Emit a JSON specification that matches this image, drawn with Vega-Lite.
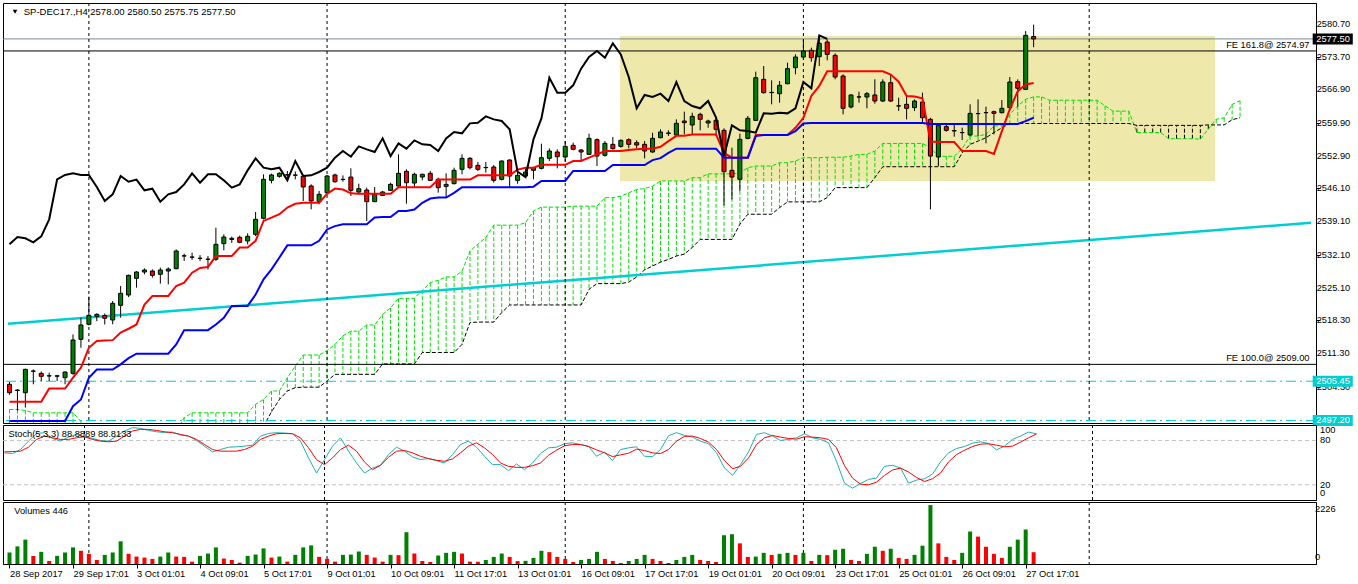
{
"$schema":"https://vega.github.io/schema/vega-lite/v6.json",
"padding":{"left":2,"top":2,"right":0,"bottom":0},
"background":"white",
"spacing":2,
"bounds":"flush",
"config":{"view":{"stroke":"#000","strokeWidth":1},"font":"Liberation Sans","axis":{"labelFont":"Liberation Sans","labelFontSize":9.3,"labelColor":"#000","domainColor":"#000","tickColor":"#000","grid":false,"labelOverlap":false},"text":{"font":"Liberation Sans","fontSize":9.3}},
"datasets":{
"bars":[
{"i":0,"o":2504.8,"h":2505.3,"l":2502.6,"c":2503.04,"tk":2501.15,"kj":2497.1,"m":63.2,"s":64.5,"v":435,"d":"u"},
{"i":1,"o":2503.6,"h":2503.75,"l":2499.3,"c":2503.5,"tk":2501.15,"kj":2497.1,"m":62.3,"s":65.0,"v":665,"d":"u"},
{"i":2,"o":2503.04,"h":2508.1,"l":2499.9,"c":2507.95,"tk":2501.15,"kj":2497.1,"m":67.7,"s":65.5,"v":921,"d":"u"},
{"i":3,"o":2507.6,"h":2507.95,"l":2504.8,"c":2507.55,"tk":2501.15,"kj":2497.1,"m":79.1,"s":70.9,"v":307,"d":"d"},
{"i":4,"o":2507.11,"h":2507.5,"l":2505.5,"c":2506.48,"tk":2501.15,"kj":2497.1,"m":89.5,"s":81.4,"v":460,"d":"u"},
{"i":5,"o":2506.6,"h":2507.25,"l":2505.5,"c":2506.55,"tk":2503.9,"kj":2497.1,"m":90.5,"s":85.9,"v":115,"d":"d"},
{"i":6,"o":2506.5,"h":2506.8,"l":2505.5,"c":2506.6,"tk":2503.9,"kj":2497.1,"m":82.7,"s":83.6,"v":307,"d":"u"},
{"i":7,"o":2506.2,"h":2507.5,"l":2504.8,"c":2507.39,"tk":2503.9,"kj":2497.1,"m":79.1,"s":81.4,"v":435,"d":"u"},
{"i":8,"o":2507.11,"h":2515.3,"l":2506.8,"c":2514.13,"tk":2506.2,"kj":2500.2,"m":84.5,"s":81.4,"v":627,"d":"u"},
{"i":9,"o":2514.27,"h":2518.83,"l":2512.5,"c":2517.29,"tk":2508.3,"kj":2501.6,"m":88.2,"s":83.6,"v":499,"d":"d"},
{"i":10,"o":2517.43,"h":2523.25,"l":2517.2,"c":2519.32,"tk":2512.5,"kj":2506.2,"m":85.0,"s":85.0,"v":384,"d":"d"},
{"i":11,"o":2519.1,"h":2519.75,"l":2518.1,"c":2519.53,"tk":2513.9,"kj":2507.9,"m":82.7,"s":81.4,"v":153,"d":"d"},
{"i":12,"o":2519.3,"h":2519.7,"l":2517.4,"c":2518.7,"tk":2514.0,"kj":2507.9,"m":80.0,"s":79.1,"v":345,"d":"u"},
{"i":13,"o":2518.34,"h":2522.34,"l":2517.43,"c":2521.85,"tk":2514.1,"kj":2507.9,"m":79.1,"s":78.2,"v":435,"d":"u"},
{"i":14,"o":2521.43,"h":2525.5,"l":2518.83,"c":2523.95,"tk":2515.7,"kj":2509.0,"m":85.9,"s":79.1,"v":857,"d":"u"},
{"i":15,"o":2523.6,"h":2527.9,"l":2523.18,"c":2527.74,"tk":2516.5,"kj":2510.3,"m":92.7,"s":85.9,"v":384,"d":"d"},
{"i":16,"o":2527.11,"h":2528.6,"l":2525.15,"c":2528.44,"tk":2517.4,"kj":2511.25,"m":97.3,"s":92.7,"v":281,"d":"d"},
{"i":17,"o":2528.44,"h":2529.2,"l":2527.95,"c":2528.86,"tk":2521.6,"kj":2511.25,"m":96.4,"s":95.0,"v":243,"d":"d"},
{"i":18,"o":2528.65,"h":2529.0,"l":2527.25,"c":2527.74,"tk":2523.4,"kj":2511.25,"m":93.6,"s":95.0,"v":192,"d":"d"},
{"i":19,"o":2527.95,"h":2529.35,"l":2525.99,"c":2528.86,"tk":2523.4,"kj":2511.25,"m":91.8,"s":93.6,"v":281,"d":"u"},
{"i":20,"o":2528.65,"h":2529.4,"l":2525.85,"c":2529.07,"tk":2523.4,"kj":2511.25,"m":90.5,"s":91.8,"v":435,"d":"u"},
{"i":21,"o":2529.14,"h":2533.2,"l":2529.0,"c":2532.86,"tk":2525.5,"kj":2513.2,"m":91.4,"s":90.5,"v":281,"d":"d"},
{"i":22,"o":2531.8,"h":2532.3,"l":2530.76,"c":2531.85,"tk":2526.2,"kj":2516.2,"m":87.3,"s":88.2,"v":270,"d":"d"},
{"i":23,"o":2531.6,"h":2532.5,"l":2531.0,"c":2531.55,"tk":2528.3,"kj":2516.2,"m":85.9,"s":85.9,"v":90,"d":"d"},
{"i":24,"o":2531.3,"h":2532.0,"l":2530.76,"c":2531.35,"tk":2529.3,"kj":2516.2,"m":80.0,"s":81.4,"v":307,"d":"u"},
{"i":25,"o":2531.1,"h":2531.8,"l":2529.0,"c":2531.15,"tk":2529.5,"kj":2516.2,"m":72.3,"s":74.5,"v":396,"d":"u"},
{"i":26,"o":2531.11,"h":2537.77,"l":2530.8,"c":2534.27,"tk":2531.8,"kj":2517.4,"m":64.5,"s":67.7,"v":627,"d":"u"},
{"i":27,"o":2534.41,"h":2536.37,"l":2533.0,"c":2535.81,"tk":2531.8,"kj":2518.8,"m":67.7,"s":65.5,"v":205,"d":"d"},
{"i":28,"o":2535.3,"h":2535.9,"l":2534.55,"c":2535.53,"tk":2531.8,"kj":2521.3,"m":70.9,"s":65.5,"v":153,"d":"d"},
{"i":29,"o":2535.74,"h":2536.1,"l":2534.5,"c":2534.69,"tk":2533.6,"kj":2521.3,"m":71.4,"s":65.5,"v":51,"d":"d"},
{"i":30,"o":2534.97,"h":2536.58,"l":2534.26,"c":2535.95,"tk":2533.6,"kj":2521.3,"m":72.3,"s":67.7,"v":307,"d":"u"},
{"i":31,"o":2536.37,"h":2541.07,"l":2536.0,"c":2539.53,"tk":2535.0,"kj":2523.7,"m":73.6,"s":72.3,"v":358,"d":"u"},
{"i":32,"o":2539.74,"h":2549.0,"l":2539.5,"c":2547.95,"tk":2539.2,"kj":2526.9,"m":85.9,"s":81.4,"v":588,"d":"u"},
{"i":33,"o":2547.74,"h":2549.14,"l":2547.1,"c":2548.86,"tk":2539.9,"kj":2529.0,"m":89.5,"s":85.9,"v":243,"d":"d"},
{"i":34,"o":2548.58,"h":2549.42,"l":2548.3,"c":2549.21,"tk":2540.6,"kj":2531.5,"m":90.5,"s":89.1,"v":281,"d":"u"},
{"i":35,"o":2548.9,"h":2549.7,"l":2547.95,"c":2548.86,"tk":2542.0,"kj":2534.05,"m":90.0,"s":89.5,"v":90,"d":"d"},
{"i":36,"o":2548.82,"h":2549.6,"l":2547.95,"c":2548.86,"tk":2542.8,"kj":2534.05,"m":89.1,"s":89.1,"v":345,"d":"u"},
{"i":37,"o":2548.58,"h":2548.86,"l":2543.39,"c":2546.33,"tk":2543.0,"kj":2534.05,"m":79.1,"s":83.6,"v":627,"d":"u"},
{"i":38,"o":2546.54,"h":2546.9,"l":2541.63,"c":2543.39,"tk":2543.0,"kj":2534.05,"m":56.4,"s":70.0,"v":703,"d":"u"},
{"i":39,"o":2543.25,"h":2545.5,"l":2542.7,"c":2544.79,"tk":2543.0,"kj":2535.0,"m":35.9,"s":54.1,"v":269,"d":"d"},
{"i":40,"o":2545.14,"h":2548.86,"l":2544.8,"c":2548.65,"tk":2544.9,"kj":2537.4,"m":54.1,"s":47.3,"v":192,"d":"d"},
{"i":41,"o":2548.86,"h":2549.14,"l":2547.2,"c":2547.45,"tk":2546.0,"kj":2538.1,"m":72.3,"s":56.4,"v":90,"d":"d"},
{"i":42,"o":2547.95,"h":2548.78,"l":2547.45,"c":2547.9,"tk":2545.8,"kj":2538.47,"m":83.6,"s":67.7,"v":345,"d":"u"},
{"i":43,"o":2548.43,"h":2550.26,"l":2544.43,"c":2545.63,"tk":2545.0,"kj":2538.47,"m":65.5,"s":73.6,"v":355,"d":"u"},
{"i":44,"o":2545.28,"h":2547.03,"l":2544.78,"c":2545.98,"tk":2544.9,"kj":2538.47,"m":49.5,"s":65.5,"v":473,"d":"u"},
{"i":45,"o":2545.7,"h":2546.19,"l":2539.17,"c":2543.24,"tk":2544.9,"kj":2538.47,"m":35.9,"s":50.9,"v":345,"d":"d"},
{"i":46,"o":2543.24,"h":2546.33,"l":2543.2,"c":2544.78,"tk":2544.9,"kj":2539.9,"m":42.7,"s":40.5,"v":243,"d":"d"},
{"i":47,"o":2544.57,"h":2545.5,"l":2544.43,"c":2545.28,"tk":2544.9,"kj":2540.0,"m":46.4,"s":46.4,"v":90,"d":"d"},
{"i":48,"o":2545.63,"h":2547.24,"l":2545.49,"c":2546.89,"tk":2544.9,"kj":2540.0,"m":60.9,"s":57.3,"v":345,"d":"u"},
{"i":49,"o":2546.54,"h":2553.2,"l":2546.19,"c":2549.21,"tk":2546.3,"kj":2541.28,"m":70.9,"s":65.5,"v":335,"d":"d"},
{"i":50,"o":2549.63,"h":2550.05,"l":2542.82,"c":2547.24,"tk":2546.3,"kj":2541.28,"m":65.5,"s":66.4,"v":1202,"d":"u"},
{"i":51,"o":2547.17,"h":2549.35,"l":2546.19,"c":2549.0,"tk":2546.3,"kj":2541.6,"m":57.7,"s":63.2,"v":396,"d":"d"},
{"i":52,"o":2548.43,"h":2549.14,"l":2547.73,"c":2549.0,"tk":2546.3,"kj":2543.0,"m":54.1,"s":58.6,"v":115,"d":"d"},
{"i":53,"o":2549.21,"h":2549.7,"l":2547.59,"c":2547.73,"tk":2546.3,"kj":2543.9,"m":55.5,"s":55.5,"v":77,"d":"d"},
{"i":54,"o":2547.94,"h":2548.3,"l":2545.14,"c":2546.19,"tk":2547.9,"kj":2544.1,"m":52.7,"s":53.2,"v":320,"d":"u"},
{"i":55,"o":2546.47,"h":2549.21,"l":2544.22,"c":2546.89,"tk":2547.9,"kj":2544.1,"m":49.5,"s":51.8,"v":422,"d":"u"},
{"i":56,"o":2547.03,"h":2550.4,"l":2546.89,"c":2549.84,"tk":2547.9,"kj":2545.1,"m":60.9,"s":55.0,"v":460,"d":"u"},
{"i":57,"o":2550.05,"h":2553.2,"l":2549.0,"c":2552.36,"tk":2547.9,"kj":2546.3,"m":74.5,"s":63.2,"v":396,"d":"d"},
{"i":58,"o":2552.36,"h":2552.64,"l":2550.05,"c":2550.4,"tk":2547.9,"kj":2546.3,"m":79.1,"s":72.3,"v":90,"d":"d"},
{"i":59,"o":2550.89,"h":2551.6,"l":2549.7,"c":2550.05,"tk":2548.8,"kj":2546.3,"m":70.9,"s":76.8,"v":85,"d":"d"},
{"i":60,"o":2550.45,"h":2551.6,"l":2549.35,"c":2550.4,"tk":2548.8,"kj":2546.3,"m":58.6,"s":70.0,"v":153,"d":"u"},
{"i":61,"o":2550.54,"h":2550.96,"l":2547.24,"c":2547.73,"tk":2548.8,"kj":2546.3,"m":47.3,"s":60.9,"v":269,"d":"u"},
{"i":62,"o":2547.94,"h":2551.94,"l":2547.73,"c":2551.8,"tk":2548.8,"kj":2546.3,"m":47.3,"s":49.5,"v":396,"d":"u"},
{"i":63,"o":2552.01,"h":2552.15,"l":2546.33,"c":2548.64,"tk":2548.8,"kj":2546.3,"m":39.1,"s":45.0,"v":269,"d":"d"},
{"i":64,"o":2547.73,"h":2549.35,"l":2547.03,"c":2548.78,"tk":2550.0,"kj":2546.3,"m":48.2,"s":43.6,"v":110,"d":"d"},
{"i":65,"o":2548.64,"h":2550.4,"l":2548.3,"c":2549.49,"tk":2550.4,"kj":2546.3,"m":40.5,"s":43.6,"v":120,"d":"u"},
{"i":66,"o":2549.84,"h":2550.54,"l":2547.94,"c":2550.4,"tk":2550.4,"kj":2546.4,"m":49.5,"s":45.9,"v":230,"d":"u"},
{"i":67,"o":2550.26,"h":2555.45,"l":2550.05,"c":2552.5,"tk":2551.0,"kj":2547.6,"m":62.3,"s":49.5,"v":499,"d":"u"},
{"i":68,"o":2552.36,"h":2554.47,"l":2551.8,"c":2553.91,"tk":2551.0,"kj":2547.6,"m":70.0,"s":60.0,"v":448,"d":"d"},
{"i":69,"o":2553.7,"h":2554.26,"l":2550.26,"c":2552.71,"tk":2551.0,"kj":2547.6,"m":70.9,"s":66.8,"v":269,"d":"d"},
{"i":70,"o":2552.64,"h":2556.01,"l":2551.66,"c":2554.89,"tk":2551.0,"kj":2547.6,"m":75.5,"s":72.7,"v":192,"d":"d"},
{"i":71,"o":2555.1,"h":2555.66,"l":2554.05,"c":2554.26,"tk":2551.8,"kj":2549.7,"m":76.8,"s":74.5,"v":77,"d":"d"},
{"i":72,"o":2554.12,"h":2554.3,"l":2551.8,"c":2553.7,"tk":2551.8,"kj":2549.7,"m":74.5,"s":74.5,"v":153,"d":"u"},
{"i":73,"o":2553.2,"h":2557.55,"l":2553.07,"c":2556.57,"tk":2552.5,"kj":2549.7,"m":72.3,"s":71.8,"v":192,"d":"u"},
{"i":74,"o":2556.29,"h":2556.57,"l":2550.75,"c":2552.85,"tk":2553.2,"kj":2549.7,"m":58.6,"s":67.3,"v":460,"d":"u"},
{"i":75,"o":2553.0,"h":2556.0,"l":2552.71,"c":2555.52,"tk":2553.9,"kj":2549.7,"m":64.5,"s":63.2,"v":192,"d":"d"},
{"i":76,"o":2555.31,"h":2556.85,"l":2554.19,"c":2554.4,"tk":2553.9,"kj":2550.96,"m":52.7,"s":58.2,"v":115,"d":"d"},
{"i":77,"o":2554.89,"h":2556.36,"l":2554.61,"c":2556.15,"tk":2553.9,"kj":2550.96,"m":67.7,"s":60.5,"v":38,"d":"d"},
{"i":78,"o":2556.29,"h":2556.57,"l":2554.47,"c":2555.31,"tk":2554.1,"kj":2550.96,"m":70.0,"s":62.7,"v":115,"d":"u"},
{"i":79,"o":2555.66,"h":2556.15,"l":2554.47,"c":2555.17,"tk":2554.3,"kj":2550.96,"m":71.4,"s":68.2,"v":192,"d":"u"},
{"i":80,"o":2555.31,"h":2556.01,"l":2552.36,"c":2553.91,"tk":2554.4,"kj":2550.96,"m":58.6,"s":66.4,"v":345,"d":"u"},
{"i":81,"o":2553.7,"h":2557.76,"l":2553.56,"c":2556.57,"tk":2554.4,"kj":2552.0,"m":58.2,"s":63.2,"v":192,"d":"d"},
{"i":82,"o":2556.71,"h":2558.47,"l":2556.57,"c":2557.91,"tk":2554.8,"kj":2552.4,"m":67.7,"s":62.3,"v":115,"d":"d"},
{"i":83,"o":2557.7,"h":2558.26,"l":2557.07,"c":2557.63,"tk":2556.0,"kj":2553.5,"m":86.4,"s":67.7,"v":38,"d":"d"},
{"i":84,"o":2557.28,"h":2560.57,"l":2557.07,"c":2559.73,"tk":2557.1,"kj":2554.4,"m":90.5,"s":79.1,"v":153,"d":"u"},
{"i":85,"o":2560.22,"h":2562.19,"l":2557.42,"c":2559.87,"tk":2557.1,"kj":2554.4,"m":86.8,"s":85.5,"v":269,"d":"u"},
{"i":86,"o":2559.38,"h":2561.97,"l":2557.42,"c":2561.2,"tk":2557.4,"kj":2554.4,"m":84.5,"s":85.9,"v":345,"d":"u"},
{"i":87,"o":2561.62,"h":2561.97,"l":2558.26,"c":2560.57,"tk":2557.4,"kj":2554.4,"m":79.1,"s":82.7,"v":153,"d":"d"},
{"i":88,"o":2559.8,"h":2560.5,"l":2558.8,"c":2560.22,"tk":2557.4,"kj":2554.4,"m":75.5,"s":77.7,"v":115,"d":"d"},
{"i":89,"o":2560.36,"h":2560.92,"l":2557.07,"c":2558.47,"tk":2557.4,"kj":2554.4,"m":63.2,"s":67.7,"v":77,"d":"d"},
{"i":90,"o":2558.26,"h":2558.68,"l":2542.47,"c":2549.55,"tk":2553.5,"kj":2552.5,"m":42.7,"s":52.7,"v":1087,"d":"u"},
{"i":91,"o":2549.84,"h":2554.61,"l":2543.73,"c":2548.43,"tk":2552.5,"kj":2552.5,"m":32.7,"s":41.8,"v":1126,"d":"u"},
{"i":92,"o":2547.94,"h":2557.56,"l":2545.49,"c":2556.36,"tk":2552.5,"kj":2552.5,"m":47.3,"s":45.0,"v":780,"d":"d"},
{"i":93,"o":2556.57,"h":2561.27,"l":2556.36,"c":2560.78,"tk":2552.5,"kj":2552.5,"m":64.5,"s":56.4,"v":269,"d":"d"},
{"i":94,"o":2560.36,"h":2570.6,"l":2560.22,"c":2569.34,"tk":2557.3,"kj":2557.06,"m":88.2,"s":74.5,"v":280,"d":"u"},
{"i":95,"o":2568.99,"h":2571.8,"l":2565.97,"c":2566.19,"tk":2557.3,"kj":2557.3,"m":90.5,"s":83.6,"v":422,"d":"u"},
{"i":96,"o":2566.25,"h":2568.78,"l":2563.73,"c":2566.19,"tk":2557.3,"kj":2557.3,"m":85.9,"s":86.8,"v":345,"d":"d"},
{"i":97,"o":2565.97,"h":2568.64,"l":2564.08,"c":2567.73,"tk":2557.3,"kj":2557.3,"m":80.0,"s":84.5,"v":384,"d":"u"},
{"i":98,"o":2568.08,"h":2572.5,"l":2567.94,"c":2571.24,"tk":2557.3,"kj":2557.3,"m":81.4,"s":82.7,"v":422,"d":"u"},
{"i":99,"o":2571.45,"h":2574.25,"l":2570.05,"c":2573.69,"tk":2558.8,"kj":2558.1,"m":83.6,"s":81.8,"v":345,"d":"d"},
{"i":100,"o":2573.69,"h":2577.41,"l":2573.41,"c":2574.95,"tk":2560.9,"kj":2559.7,"m":89.1,"s":85.0,"v":422,"d":"u"},
{"i":101,"o":2575.1,"h":2575.66,"l":2572.71,"c":2573.55,"tk":2565.5,"kj":2559.8,"m":83.6,"s":84.5,"v":115,"d":"d"},
{"i":102,"o":2573.76,"h":2578.11,"l":2571.8,"c":2576.57,"tk":2567.6,"kj":2559.8,"m":81.4,"s":83.6,"v":345,"d":"u"},
{"i":103,"o":2576.85,"h":2577.41,"l":2572.99,"c":2574.25,"tk":2570.7,"kj":2559.8,"m":76.8,"s":81.4,"v":335,"d":"d"},
{"i":104,"o":2574.04,"h":2574.46,"l":2569.0,"c":2569.48,"tk":2570.7,"kj":2559.8,"m":51.8,"s":70.0,"v":537,"d":"u"},
{"i":105,"o":2569.69,"h":2570.05,"l":2561.62,"c":2562.89,"tk":2570.7,"kj":2559.8,"m":22.3,"s":45.9,"v":576,"d":"u"},
{"i":106,"o":2563.17,"h":2565.83,"l":2562.89,"c":2565.7,"tk":2570.7,"kj":2559.8,"m":15.5,"s":29.1,"v":153,"d":"d"},
{"i":107,"o":2565.3,"h":2566.4,"l":2564.08,"c":2565.27,"tk":2570.7,"kj":2559.8,"m":21.8,"s":20.9,"v":115,"d":"d"},
{"i":108,"o":2565.27,"h":2566.33,"l":2562.89,"c":2565.97,"tk":2570.7,"kj":2559.8,"m":27.3,"s":20.0,"v":384,"d":"u"},
{"i":109,"o":2565.7,"h":2569.0,"l":2563.87,"c":2564.43,"tk":2570.7,"kj":2559.8,"m":29.1,"s":23.6,"v":652,"d":"u"},
{"i":110,"o":2564.43,"h":2569.0,"l":2564.22,"c":2568.43,"tk":2570.7,"kj":2559.8,"m":45.0,"s":32.7,"v":499,"d":"d"},
{"i":111,"o":2568.29,"h":2570.0,"l":2564.22,"c":2564.43,"tk":2570.0,"kj":2559.8,"m":46.4,"s":40.0,"v":576,"d":"u"},
{"i":112,"o":2563.42,"h":2565.13,"l":2562.33,"c":2563.38,"tk":2568.5,"kj":2559.8,"m":42.7,"s":42.7,"v":230,"d":"d"},
{"i":113,"o":2563.73,"h":2565.48,"l":2560.57,"c":2562.89,"tk":2565.5,"kj":2559.8,"m":22.3,"s":37.3,"v":192,"d":"d"},
{"i":114,"o":2563.03,"h":2564.78,"l":2562.33,"c":2564.43,"tk":2565.4,"kj":2559.8,"m":26.4,"s":30.0,"v":345,"d":"u"},
{"i":115,"o":2564.22,"h":2566.19,"l":2559.66,"c":2560.92,"tk":2565.0,"kj":2559.8,"m":28.2,"s":24.5,"v":691,"d":"u"},
{"i":116,"o":2560.57,"h":2560.92,"l":2541.63,"c":2552.85,"tk":2555.9,"kj":2559.6,"m":34.5,"s":28.2,"v":2226,"d":"u"},
{"i":117,"o":2552.64,"h":2559.66,"l":2550.75,"c":2559.31,"tk":2555.8,"kj":2559.6,"m":50.9,"s":35.9,"v":780,"d":"d"},
{"i":118,"o":2559.03,"h":2559.66,"l":2557.97,"c":2558.26,"tk":2555.8,"kj":2559.6,"m":63.2,"s":50.9,"v":269,"d":"d"},
{"i":119,"o":2558.2,"h":2559.73,"l":2556.92,"c":2558.12,"tk":2555.8,"kj":2559.6,"m":69.1,"s":60.9,"v":153,"d":"d"},
{"i":120,"o":2557.8,"h":2558.82,"l":2556.22,"c":2557.77,"tk":2553.9,"kj":2559.6,"m":71.8,"s":66.8,"v":422,"d":"u"},
{"i":121,"o":2557.28,"h":2563.73,"l":2557.07,"c":2561.83,"tk":2553.9,"kj":2559.6,"m":76.4,"s":71.8,"v":1228,"d":"u"},
{"i":122,"o":2561.8,"h":2564.78,"l":2557.06,"c":2561.76,"tk":2553.9,"kj":2559.6,"m":78.2,"s":75.0,"v":1036,"d":"d"},
{"i":123,"o":2562.0,"h":2563.24,"l":2555.52,"c":2561.97,"tk":2553.9,"kj":2559.6,"m":75.9,"s":75.5,"v":652,"d":"d"},
{"i":124,"o":2562.18,"h":2562.4,"l":2557.41,"c":2561.83,"tk":2553.3,"kj":2559.6,"m":67.3,"s":73.6,"v":384,"d":"d"},
{"i":125,"o":2561.97,"h":2564.64,"l":2561.83,"c":2562.89,"tk":2558.1,"kj":2559.6,"m":72.3,"s":71.4,"v":230,"d":"d"},
{"i":126,"o":2563.03,"h":2569.48,"l":2562.54,"c":2568.43,"tk":2562.7,"kj":2559.6,"m":81.4,"s":72.3,"v":652,"d":"u"},
{"i":127,"o":2568.5,"h":2568.99,"l":2563.24,"c":2567.1,"tk":2566.5,"kj":2559.6,"m":85.9,"s":77.7,"v":921,"d":"u"},
{"i":128,"o":2566.88,"h":2579.16,"l":2566.74,"c":2578.25,"tk":2567.9,"kj":2560.2,"m":91.4,"s":83.6,"v":1305,"d":"u"},
{"i":129,"o":2578.0,"h":2580.5,"l":2575.75,"c":2577.5,"tk":2568.2,"kj":2560.9,"m":88.89,"s":88.81,"v":446,"d":"d"}
],
"chikou":[
{"i":0,"p":2534.27},{"i":1,"p":2535.81},{"i":2,"p":2535.53},{"i":3,"p":2534.69},{"i":4,"p":2535.95},{"i":5,"p":2539.53},{"i":6,"p":2547.95},{"i":7,"p":2548.86},{"i":8,"p":2549.21},{"i":9,"p":2548.86},
{"i":10,"p":2548.86},{"i":11,"p":2546.33},{"i":12,"p":2543.39},{"i":13,"p":2544.79},{"i":14,"p":2548.65},{"i":15,"p":2547.45},{"i":16,"p":2547.9},{"i":17,"p":2545.63},{"i":18,"p":2545.98},{"i":19,"p":2543.24},
{"i":20,"p":2544.78},{"i":21,"p":2545.28},{"i":22,"p":2546.89},{"i":23,"p":2549.21},{"i":24,"p":2547.24},{"i":25,"p":2549.0},{"i":26,"p":2549.0},{"i":27,"p":2547.73},{"i":28,"p":2546.19},{"i":29,"p":2546.89},
{"i":30,"p":2549.84},{"i":31,"p":2552.36},{"i":32,"p":2550.4},{"i":33,"p":2550.05},{"i":34,"p":2550.4},{"i":35,"p":2547.73},{"i":36,"p":2551.8},{"i":37,"p":2548.64},{"i":38,"p":2548.78},{"i":39,"p":2549.49},
{"i":40,"p":2550.4},{"i":41,"p":2552.5},{"i":42,"p":2553.91},{"i":43,"p":2552.71},{"i":44,"p":2554.89},{"i":45,"p":2554.26},{"i":46,"p":2553.7},{"i":47,"p":2556.57},{"i":48,"p":2552.85},{"i":49,"p":2555.52},
{"i":50,"p":2554.4},{"i":51,"p":2556.15},{"i":52,"p":2555.31},{"i":53,"p":2555.17},{"i":54,"p":2553.91},{"i":55,"p":2556.57},{"i":56,"p":2557.91},{"i":57,"p":2557.63},{"i":58,"p":2559.73},{"i":59,"p":2559.87},
{"i":60,"p":2561.2},{"i":61,"p":2560.57},{"i":62,"p":2560.22},{"i":63,"p":2558.47},{"i":64,"p":2549.55},{"i":65,"p":2548.43},{"i":66,"p":2556.36},{"i":67,"p":2560.78},{"i":68,"p":2569.34},{"i":69,"p":2566.19},
{"i":70,"p":2566.19},{"i":71,"p":2567.73},{"i":72,"p":2571.24},{"i":73,"p":2573.69},{"i":74,"p":2574.95},{"i":75,"p":2573.55},{"i":76,"p":2576.57},{"i":77,"p":2574.25},{"i":78,"p":2569.48},{"i":79,"p":2562.89},
{"i":80,"p":2565.7},{"i":81,"p":2565.27},{"i":82,"p":2565.97},{"i":83,"p":2564.43},{"i":84,"p":2568.43},{"i":85,"p":2564.43},{"i":86,"p":2563.38},{"i":87,"p":2562.89},{"i":88,"p":2564.43},{"i":89,"p":2560.92},
{"i":90,"p":2552.85},{"i":91,"p":2559.31},{"i":92,"p":2558.26},{"i":93,"p":2558.12},{"i":94,"p":2557.77},{"i":95,"p":2561.83},{"i":96,"p":2561.76},{"i":97,"p":2561.97},{"i":98,"p":2561.83},{"i":99,"p":2562.89},
{"i":100,"p":2568.43},{"i":101,"p":2567.1},{"i":102,"p":2578.25},{"i":103,"p":2577.5}
],
"cloud":[
{"i":0,"a":2499.5,"b":2494},{"i":1,"a":2499.5,"b":2494},{"i":2,"a":2499.3,"b":2494},{"i":3,"a":2498.8,"b":2494},{"i":4,"a":2498.8,"b":2494},{"i":5,"a":2498.8,"b":2494},{"i":6,"a":2498.8,"b":2494},{"i":7,"a":2498.8,"b":2494},{"i":8,"a":2498.8,"b":2494},{"i":9,"a":2497.0,"b":2494},
{"i":10,"a":2494.5,"b":2494},{"i":11,"a":2494.5,"b":2494},{"i":12,"a":2494.5,"b":2494},{"i":13,"a":2494.5,"b":2494},{"i":14,"a":2494.5,"b":2494},{"i":15,"a":2494.5,"b":2494},{"i":16,"a":2494.5,"b":2494},{"i":17,"a":2494.5,"b":2494},{"i":18,"a":2494.5,"b":2494},{"i":19,"a":2494.5,"b":2494},
{"i":20,"a":2494.5,"b":2494},{"i":21,"a":2494.5,"b":2494},{"i":22,"a":2497.8,"b":2494},{"i":23,"a":2498.8,"b":2494},{"i":24,"a":2498.8,"b":2494},{"i":25,"a":2498.8,"b":2494},{"i":26,"a":2498.8,"b":2494},{"i":27,"a":2498.8,"b":2494},{"i":28,"a":2498.8,"b":2494},{"i":29,"a":2498.8,"b":2494},
{"i":30,"a":2498.8,"b":2494},{"i":31,"a":2500.6,"b":2494},{"i":32,"a":2501.6,"b":2496.0},{"i":33,"a":2503.4,"b":2499.0},{"i":34,"a":2503.4,"b":2501.6},{"i":35,"a":2506.2,"b":2503.4},{"i":36,"a":2508.65,"b":2504.1},{"i":37,"a":2510.97,"b":2504.2},{"i":38,"a":2510.97,"b":2504.2},{"i":39,"a":2510.97,"b":2504.2},
{"i":40,"a":2511.9,"b":2505.5},{"i":41,"a":2513.2,"b":2506.9},{"i":42,"a":2515.0,"b":2506.9},{"i":43,"a":2516.0,"b":2506.9},{"i":44,"a":2516.0,"b":2506.9},{"i":45,"a":2517.3,"b":2506.9},{"i":46,"a":2517.3,"b":2506.9},{"i":47,"a":2519.5,"b":2509.1},{"i":48,"a":2520.9,"b":2509.1},{"i":49,"a":2522.9,"b":2509.1},
{"i":50,"a":2522.9,"b":2509.1},{"i":51,"a":2522.9,"b":2509.1},{"i":52,"a":2524.6,"b":2511.5},{"i":53,"a":2526.2,"b":2511.5},{"i":54,"a":2526.7,"b":2511.5},{"i":55,"a":2527.4,"b":2511.5},{"i":56,"a":2527.4,"b":2511.5},{"i":57,"a":2528.6,"b":2513.2},{"i":58,"a":2532.85,"b":2517.8},{"i":59,"a":2534.3,"b":2517.9},
{"i":60,"a":2535.7,"b":2517.9},{"i":61,"a":2538.3,"b":2517.9},{"i":62,"a":2538.3,"b":2519.9},{"i":63,"a":2538.3,"b":2521.5},{"i":64,"a":2538.3,"b":2521.5},{"i":65,"a":2538.8,"b":2521.5},{"i":66,"a":2541.3,"b":2521.5},{"i":67,"a":2542.1,"b":2521.5},{"i":68,"a":2542.1,"b":2521.5},{"i":69,"a":2542.1,"b":2521.5},
{"i":70,"a":2542.1,"b":2521.5},{"i":71,"a":2542.3,"b":2521.5},{"i":72,"a":2542.3,"b":2521.5},{"i":73,"a":2542.3,"b":2524.8},{"i":74,"a":2542.3,"b":2526.0},{"i":75,"a":2544.1,"b":2526.0},{"i":76,"a":2544.1,"b":2526.0},{"i":77,"a":2544.4,"b":2526.0},{"i":78,"a":2545.1,"b":2526.3},{"i":79,"a":2545.8,"b":2527.4},
{"i":80,"a":2546.0,"b":2528.9},{"i":81,"a":2546.5,"b":2529.7},{"i":82,"a":2547.6,"b":2530.5},{"i":83,"a":2547.6,"b":2531.1},{"i":84,"a":2547.6,"b":2531.8},{"i":85,"a":2547.6,"b":2532.2},{"i":86,"a":2548.3,"b":2533.6},{"i":87,"a":2548.3,"b":2535.3},{"i":88,"a":2549.1,"b":2535.3},{"i":89,"a":2549.1,"b":2535.3},
{"i":90,"a":2549.1,"b":2535.3},{"i":91,"a":2549.1,"b":2535.3},{"i":92,"a":2549.3,"b":2538.5},{"i":93,"a":2550.4,"b":2540.6},{"i":94,"a":2550.75,"b":2540.6},{"i":95,"a":2550.75,"b":2540.6},{"i":96,"a":2550.75,"b":2540.6},{"i":97,"a":2551.45,"b":2542.0},{"i":98,"a":2551.45,"b":2543.2},{"i":99,"a":2551.8,"b":2543.2},
{"i":100,"a":2552.5,"b":2543.2},{"i":101,"a":2552.5,"b":2543.2},{"i":102,"a":2552.5,"b":2543.2},{"i":103,"a":2552.6,"b":2544.1},{"i":104,"a":2552.6,"b":2546.2},{"i":105,"a":2552.6,"b":2546.2},{"i":106,"a":2552.85,"b":2546.2},{"i":107,"a":2553.2,"b":2546.2},{"i":108,"a":2553.2,"b":2546.2},{"i":109,"a":2553.9,"b":2548.3},
{"i":110,"a":2555.5,"b":2550.6},{"i":111,"a":2555.5,"b":2550.6},{"i":112,"a":2555.5,"b":2550.6},{"i":113,"a":2555.5,"b":2550.6},{"i":114,"a":2555.5,"b":2550.6},{"i":115,"a":2555.5,"b":2550.6},{"i":116,"a":2554.6,"b":2550.6},{"i":117,"a":2552.8,"b":2550.6},{"i":118,"a":2552.8,"b":2550.6},{"i":119,"a":2552.8,"b":2550.6},
{"i":120,"a":2554.4,"b":2553.5},{"i":121,"a":2557.06,"b":2555.3},{"i":122,"a":2557.06,"b":2556.0},{"i":123,"a":2557.4,"b":2556.7},{"i":124,"a":2559.2,"b":2557.8},{"i":125,"a":2559.2,"b":2558.8},{"i":126,"a":2561.6,"b":2559.7},{"i":127,"a":2563.4,"b":2559.7},{"i":128,"a":2564.8,"b":2559.7},{"i":129,"a":2565.3,"b":2559.7},
{"i":130,"a":2565.3,"b":2559.7},{"i":131,"a":2564.6,"b":2559.7},{"i":132,"a":2564.6,"b":2559.7},{"i":133,"a":2564.6,"b":2559.7},{"i":134,"a":2564.6,"b":2559.7},{"i":135,"a":2564.6,"b":2559.7},{"i":136,"a":2564.6,"b":2559.7},{"i":137,"a":2564.6,"b":2559.7},{"i":138,"a":2563.4,"b":2559.7},{"i":139,"a":2562.3,"b":2559.7},
{"i":140,"a":2562.3,"b":2559.7},{"i":141,"a":2562.3,"b":2559.7},{"i":142,"a":2557.8,"b":2559.3},{"i":143,"a":2557.8,"b":2559.3},{"i":144,"a":2557.8,"b":2559.3},{"i":145,"a":2557.8,"b":2559.3},{"i":146,"a":2556.5,"b":2559.3},{"i":147,"a":2556.5,"b":2559.3},{"i":148,"a":2556.5,"b":2559.3},{"i":149,"a":2556.5,"b":2559.3},
{"i":150,"a":2556.4,"b":2559.3},{"i":151,"a":2558.5,"b":2559.4},{"i":152,"a":2560.6,"b":2559.4},{"i":153,"a":2560.9,"b":2559.4},{"i":154,"a":2563.7,"b":2560.5},{"i":155,"a":2564.5,"b":2560.9}
],
"seps":[{"i":10},{"i":40},{"i":70},{"i":100},{"i":136}],
"levels":[{"p":2574.97,"k":"fe","t":"FE 161.8@ 2574.97"},{"p":2509.0,"k":"fe","t":"FE 100.0@ 2509.00"},{"p":2577.5,"k":"bid","t":"2577.50"},{"p":2505.45,"k":"cy","t":"2505.45"},{"p":2497.2,"k":"cy","t":"2497.20"}],
"pticks":[{"v":2580.7},{"v":2573.7},{"v":2566.9},{"v":2559.9},{"v":2552.9},{"v":2546.1},{"v":2539.1},{"v":2532.1},{"v":2525.1},{"v":2518.3},{"v":2511.3},{"v":2504.3}]
},
"vconcat":[
{"width":1313,"height":420,
"layer":[
{"data":{"values":[{"i":76.9,"i2":151.85,"p0":2547.6,"p1":2578.1}]},"mark":{"type":"rect","fill":"#EEE8AA"},
 "encoding":{"x":{"field":"i","type":"quantitative","scale":{"domain":[-0.1875,163.9375],"nice":false,"zero":false},"axis":null},"x2":{"field":"i2"},"y":{"field":"p0","type":"quantitative","scale":{"domain":[2496.66,2585.06],"nice":false,"zero":false},"axis":{"orient":"right","values":[2580.7,2573.7,2566.9,2559.9,2552.9,2546.1,2539.1,2532.1,2525.1,2518.3,2511.3,2504.3],"labels":false,"tickSize":4,"title":null,"grid":false}},"y2":{"field":"p1"}}},
{"data":{"name":"cloud"},"mark":{"type":"rule","strokeDash":[4,2],"strokeWidth":1,"clip":true},
 "encoding":{"x":{"field":"i","type":"quantitative"},"y":{"field":"a","type":"quantitative"},"y2":{"field":"b"},"color":{"condition":{"test":"datum.a >= datum.b","value":"#00E000"},"value":"#000000"}}},
{"data":{"name":"cloud"},"mark":{"type":"line","color":"#00E000","strokeDash":[4,2],"strokeWidth":1,"clip":true},
 "encoding":{"x":{"field":"i","type":"quantitative"},"y":{"field":"a","type":"quantitative"}}},
{"data":{"name":"cloud"},"mark":{"type":"line","color":"#000000","strokeDash":[4,2],"strokeWidth":1,"clip":true},
 "encoding":{"x":{"field":"i","type":"quantitative"},"y":{"field":"b","type":"quantitative"}}},
{"data":{"values":[{"i":-0.1875,"p":2517.55},{"i":163.9375,"p":2538.8}]},"mark":{"type":"line","color":"#00CED1","strokeWidth":2.5,"clip":true},
 "encoding":{"x":{"field":"i","type":"quantitative"},"y":{"field":"p","type":"quantitative"}}},
{"data":{"name":"levels"},"transform":[{"filter":"datum.k == 'fe'"}],"mark":{"type":"rule","color":"#000","strokeWidth":1},
 "encoding":{"y":{"field":"p","type":"quantitative"}}},
{"data":{"name":"levels"},"transform":[{"filter":"datum.k == 'bid'"}],"mark":{"type":"rule","color":"#778899","strokeWidth":1},
 "encoding":{"y":{"field":"p","type":"quantitative"}}},
{"data":{"name":"levels"},"transform":[{"filter":"datum.k == 'cy'"}],"mark":{"type":"rule","color":"#00CED1","strokeWidth":1,"strokeDash":[10,4,2,4]},
 "encoding":{"y":{"field":"p","type":"quantitative"}}},
{"data":{"name":"seps"},"mark":{"type":"rule","color":"#000","strokeDash":[3,3],"strokeWidth":1},"encoding":{"x":{"field":"i","type":"quantitative"}}},
{"data":{"name":"bars"},"mark":{"type":"rule","color":"#000","strokeWidth":1},
 "encoding":{"x":{"field":"i","type":"quantitative"},"y":{"field":"l","type":"quantitative"},"y2":{"field":"h"}}},
{"data":{"name":"bars"},"mark":{"type":"bar","size":4,"stroke":"#000","strokeWidth":1},
 "encoding":{"x":{"field":"i","type":"quantitative"},"y":{"field":"o","type":"quantitative","scale":{"domain":[2496.66,2585.06],"nice":false,"zero":false}},"y2":{"field":"c"},"fill":{"condition":{"test":"datum.c >= datum.o","value":"#008000"},"value":"#FF0000"}}},
{"data":{"name":"bars"},"mark":{"type":"line","color":"#FF0000","strokeWidth":2},"encoding":{"x":{"field":"i","type":"quantitative"},"y":{"field":"tk","type":"quantitative"}}},
{"data":{"name":"bars"},"mark":{"type":"line","color":"#0000FF","strokeWidth":2},"encoding":{"x":{"field":"i","type":"quantitative"},"y":{"field":"kj","type":"quantitative"}}},
{"data":{"name":"chikou"},"mark":{"type":"line","color":"#000000","strokeWidth":2},"encoding":{"x":{"field":"i","type":"quantitative"},"y":{"field":"p","type":"quantitative"}}},
{"data":{"name":"levels"},"transform":[{"filter":"datum.k == 'fe'"}],"mark":{"type":"text","align":"right","baseline":"alphabetic","dy":-3,"fontSize":9.3,"color":"#000"},
 "encoding":{"x":{"datum":163.75,"type":"quantitative"},"y":{"field":"p","type":"quantitative"},"text":{"field":"t"}}},
{"data":{"values":[{"t":"SP-DEC17.,H4 2578.00 2580.50 2575.75 2577.50"}]},"mark":{"type":"text","align":"left","baseline":"middle","fontSize":9.5,"color":"#000"},
 "encoding":{"x":{"datum":1.8,"type":"quantitative"},"y":{"datum":2583.2,"type":"quantitative"},"text":{"field":"t"}}},
{"data":{"values":[{"t":"v"}]},"mark":{"type":"point","shape":"triangle-down","filled":true,"size":22,"color":"#000","opacity":1},
 "encoding":{"x":{"datum":0.7,"type":"quantitative"},"y":{"datum":2583.2,"type":"quantitative"}}},
{"data":{"name":"pticks"},"mark":{"type":"text","align":"left","baseline":"middle","fontSize":9.3,"color":"#000"},
 "encoding":{"x":{"datum":164.65,"type":"quantitative"},"y":{"field":"v","type":"quantitative"},"text":{"field":"v","type":"quantitative","format":".2f"}}},
{"data":{"name":"levels"},"transform":[{"filter":"datum.k != 'fe'"}],"mark":{"type":"rect","yOffset":-5.5,"y2Offset":5.5},
 "encoding":{"x":{"datum":164.15,"type":"quantitative"},"x2":{"datum":169.2},"y":{"field":"p","type":"quantitative"},"y2":{"field":"p"},"fill":{"condition":{"test":"datum.k == 'bid'","value":"#000000"},"value":"#00CED1"}}},
{"data":{"name":"levels"},"transform":[{"filter":"datum.k != 'fe'"}],"mark":{"type":"text","align":"left","baseline":"middle","fontSize":9.3,"color":"#FFFFFF"},
 "encoding":{"x":{"datum":164.6,"type":"quantitative"},"y":{"field":"p","type":"quantitative"},"text":{"field":"t"}}}
]},
{"width":1313,"height":75,
"layer":[
{"data":{"values":[{"v":80},{"v":20}]},"mark":{"type":"rule","color":"#C0C0C0","strokeDash":[4,3],"strokeWidth":1},
 "encoding":{"y":{"field":"v","type":"quantitative","scale":{"domain":[-0.55,100.9],"nice":false,"zero":false},"axis":{"orient":"right","values":[80,20],"labels":false,"ticks":false,"title":null,"grid":false}}}},
{"data":{"name":"seps"},"mark":{"type":"rule","color":"#000","strokeDash":[3,3],"strokeWidth":1},"encoding":{"x":{"field":"i","type":"quantitative","scale":{"domain":[-0.1875,163.9375],"nice":false,"zero":false},"axis":null}}},
{"data":{"name":"bars"},"mark":{"type":"line","color":"#20B2AA","strokeWidth":1},"encoding":{"x":{"field":"i","type":"quantitative"},"y":{"field":"m","type":"quantitative"}}},
{"data":{"name":"bars"},"mark":{"type":"line","color":"#FF0000","strokeWidth":1},"encoding":{"x":{"field":"i","type":"quantitative"},"y":{"field":"s","type":"quantitative"}}},
{"data":{"values":[{"t":"Stoch(5,3,3) 88.8889 88.8133"}]},"mark":{"type":"text","align":"left","baseline":"middle","fontSize":9.3,"color":"#000"},
 "encoding":{"x":{"datum":0.5,"type":"quantitative"},"y":{"datum":88.5,"type":"quantitative"},"text":{"field":"t"}}},
{"data":{"values":[{"v":80},{"v":20}]},"mark":{"type":"text","align":"left","baseline":"middle","fontSize":9.3,"color":"#000"},
 "encoding":{"x":{"datum":164.44,"type":"quantitative"},"y":{"field":"v","type":"quantitative"},"text":{"field":"v","type":"quantitative","format":"d"}}},
{"data":{"values":[{"v":100}]},"mark":{"type":"text","align":"left","baseline":"top","dy":0,"fontSize":9.3,"color":"#000"},
 "encoding":{"x":{"datum":164.44,"type":"quantitative"},"y":{"field":"v","type":"quantitative"},"text":{"field":"v","type":"quantitative","format":"d"}}},
{"data":{"values":[{"v":0}]},"mark":{"type":"text","align":"left","baseline":"bottom","dy":-2,"fontSize":9.3,"color":"#000"},
 "encoding":{"x":{"datum":164.44,"type":"quantitative"},"y":{"field":"v","type":"quantitative"},"text":{"field":"v","type":"quantitative","format":"d"}}}
]},
{"width":1313,"height":62,
"layer":[
{"data":{"name":"seps"},"mark":{"type":"rule","color":"#000","strokeDash":[3,3],"strokeWidth":1},"encoding":{"x":{"field":"i","type":"quantitative","scale":{"domain":[-0.1875,163.9375],"nice":false,"zero":false},
 "axis":{"values":[0,8,16,24,32,40,48,56,64,72,80,88,96,104,112,120,128],"labelExpr":"['28 Sep 2017','29 Sep 17:01','3 Oct 01:01','4 Oct 09:01','5 Oct 17:01','9 Oct 01:01','10 Oct 09:01','11 Oct 17:01','13 Oct 01:01','16 Oct 09:01','17 Oct 17:01','19 Oct 01:01','20 Oct 09:01','23 Oct 17:01','25 Oct 01:01','26 Oct 09:01','27 Oct 17:01'][round(datum.value/8)]","labelAlign":"left","labelBaseline":"top","tickSize":4,"labelPadding":1,"labelOverlap":false,"labelFlush":false,"title":null,"grid":false}}}},
{"data":{"name":"bars"},"mark":{"type":"bar","size":4},
 "encoding":{"x":{"field":"i","type":"quantitative"},"y":{"field":"v","type":"quantitative","scale":{"domain":[0,2343],"nice":false,"zero":false},"axis":{"orient":"right","values":[2226,0],"labels":false,"ticks":false,"title":null,"grid":false}},"y2":{"datum":0},"fill":{"field":"d","type":"nominal","scale":{"domain":["u","d"],"range":["#008000","#FF0000"]},"legend":null}}},
{"data":{"values":[{"t":"Volumes 446"}]},"mark":{"type":"text","align":"left","baseline":"middle","fontSize":9.3,"color":"#000"},
 "encoding":{"x":{"datum":0.6,"type":"quantitative"},"y":{"datum":2010,"type":"quantitative"},"text":{"field":"t"}}},
{"data":{"values":[{"v":2226}]},"mark":{"type":"text","align":"left","baseline":"top","fontSize":9.3,"color":"#000"},
 "encoding":{"x":{"datum":164.44,"type":"quantitative"},"y":{"field":"v","type":"quantitative"},"text":{"field":"v","type":"quantitative","format":"d"}}},
{"data":{"values":[{"v":0}]},"mark":{"type":"text","align":"left","baseline":"bottom","dy":-2,"fontSize":9.3,"color":"#000"},
 "encoding":{"x":{"datum":164.44,"type":"quantitative"},"y":{"field":"v","type":"quantitative"},"text":{"field":"v","type":"quantitative","format":"d"}}}
]}
]
}
